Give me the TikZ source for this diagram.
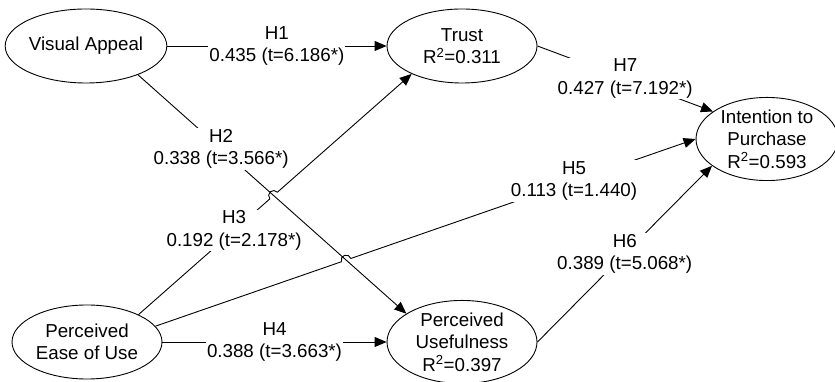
\documentclass[tikz,border=0pt]{standalone}
\usepackage{fontspec}
\setmainfont{Liberation Sans}
\usetikzlibrary{shapes.geometric,arrows.meta,intersections}

\tikzset{
  construct/.style={draw, ellipse, minimum width=150pt, minimum height=74pt, inner sep=0pt, align=center},
  path label/.style={fill=white, inner sep=1pt, align=center},
  hyp/.style={-{Triangle[length=12pt,width=10pt]}},
}

\begin{document}
\begin{tikzpicture}[x=1pt, y=1pt, line width=0.9pt, font=\fontsize{18.75}{22.5}\selectfont]
    \useasboundingbox (0,0) rectangle (835,382);
    \node[construct] (va) at (86,336) {Visual Appeal};
    \node[construct] (trust) at (462,336) {Trust\\R\textsuperscript{2}=0.311};
    \node[construct, minimum width=142pt] (itp) at (767,243) {Intention to\\Purchase\\R\textsuperscript{2}=0.593};
    \node[construct] (peou) at (87,40) {Perceived\\Ease of Use};
    \node[construct] (pu) at (462,40) {Perceived\\Usefulness\\R\textsuperscript{2}=0.397};
    \draw [hyp] (va) to node[path label] {H1\\0.435 (t=6.186*)} (trust);
    \draw [hyp, name path=h3] (peou.28) to node[path label, pos=.35] {H3\\0.192 (t=2.178*)} (trust.209);
    \draw [hyp, name path=h5] (peou.13) to node[path label, pos=.775] {H5\\0.113 (t=1.440)} (itp.180);
    \draw [hyp] (peou) to node[path label] {H4\\0.388 (t=3.663*)} (pu);
    \draw [hyp] (pu.east) to node[path label] {H6\\0.389 (t=5.068*)} (itp.206);
    \draw [hyp] (trust.east) to node[path label] {H7\\0.427 (t=7.192*)} (itp.153);
    % hops of H3 and H5 over H2
    \path [name path=h2] (va.-29) -- (pu.153);
    \path [name intersections={of=h2 and h3, by=hopa}];
    \path [name intersections={of=h2 and h5, by=hopb}];
    \fill [white] (hopa) circle (5pt);
    \fill [white] (hopb) circle (5pt);
    \draw (hopa) ++(221:5pt) arc [start angle=221, end angle=41, radius=5pt];
    \draw (hopb) ++(199:5pt) arc [start angle=199, end angle=19, radius=5pt];
    \draw [hyp] (va.-29) to node[path label, pos=.31] {H2\\0.338 (t=3.566*)} (pu.153);
\end{tikzpicture}
\end{document}
